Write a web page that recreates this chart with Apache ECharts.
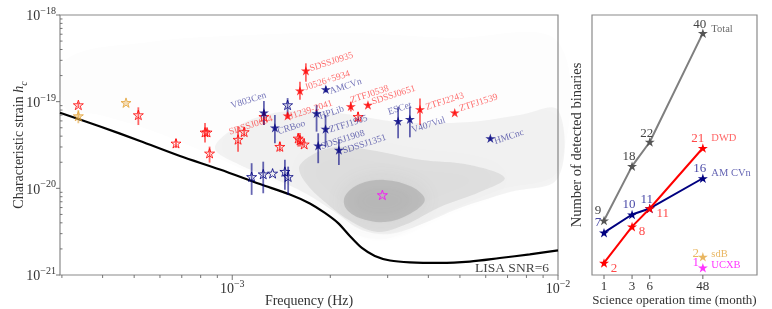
<!DOCTYPE html>
<html><head><meta charset="utf-8">
<script src="https://cdn.jsdelivr.net/npm/echarts@6/dist/echarts.min.js"></script>
<style>html,body{margin:0;padding:0;background:#fff}#c{width:772px;height:309px}</style>
</head><body><div id="c"></div>
<script>
// ================= DATA =================
// LISA sensitivity curve (SNR=6)
const lisaFreq   = [2.96e-4, 3.93e-4, 5.21e-4, 6.91e-4, 9.17e-4, 1.216e-3, 1.503e-3, 1.731e-3, 1.925e-3, 2.11e-3, 2.296e-3, 2.50e-3, 2.74e-3, 3.05e-3, 3.51e-3, 4.34e-3, 5.36e-3, 6.63e-3, 8.19e-3, 1.0e-2];
const lisaStrain = [7.46e-20, 5.18e-20, 3.52e-20, 2.36e-20, 1.65e-20, 1.12e-20, 8.5e-21, 6.70e-21, 5.20e-21, 3.99e-21, 2.82e-21, 2.05e-21, 1.66e-21, 1.47e-21, 1.40e-21, 1.38e-21, 1.43e-21, 1.57e-21, 1.73e-21, 1.92e-21];

// Simulated population density envelopes (outer -> core)
const cloudSparseF = [3.07e-4, 5.59e-4, 1.133e-3, 2.296e-3, 4.65e-3, 1.0e-2, 1.0e-2, 6.63e-3, 4.34e-3, 3.05e-3, 2.46e-3, 1.994e-3, 1.614e-3, 1.305e-3, 1.056e-3, 7.96e-4, 5.59e-4, 3.93e-4, 3.07e-4];
const cloudSparseH = [3.03e-19, 4.89e-19, 5.88e-19, 6.20e-19, 5.43e-19, 4.89e-19, 1.63e-20, 9.6e-21, 4.93e-21, 2.68e-21, 2.82e-21, 4.93e-21, 8.4e-21, 1.25e-20, 1.72e-20, 2.77e-20, 4.72e-20, 7.03e-20, 8.45e-20];
const cloudMidF = [8.85e-4, 1.056e-3, 1.40e-3, 1.994e-3, 3.27e-3, 5.36e-3, 7.63e-3, 1.0e-2, 1.0e-2, 7.11e-3, 4.99e-3, 3.77e-3, 3.05e-3, 2.50e-3, 2.065e-3, 1.671e-3, 1.305e-3, 1.056e-3];
const cloudMidH = [2.92e-20, 5.38e-20, 7.60e-20, 7.60e-20, 5.83e-20, 5.83e-20, 7.03e-20, 8.01e-20, 1.32e-20, 9.08e-21, 5.94e-21, 3.79e-21, 2.98e-21, 3.31e-21, 5.35e-21, 8.85e-21, 1.35e-20, 1.86e-20];
const cloudDenseF = [1.614e-3, 1.994e-3, 2.645e-3, 3.77e-3, 5.36e-3, 6.86e-3, 5.75e-3, 4.34e-3, 3.39e-3, 2.80e-3, 2.33e-3, 1.925e-3, 1.671e-3];
const cloudDenseH = [1.86e-20, 2.92e-20, 2.77e-20, 2.13e-20, 1.86e-20, 1.32e-20, 9.08e-21, 6.10e-21, 3.79e-21, 3.14e-21, 4.09e-21, 6.97e-21, 1.19e-20];
const cloudCoreF = [2.22e-3, 2.46e-3, 2.94e-3, 3.56e-3, 3.90e-3, 3.51e-3, 2.94e-3, 2.46e-3, 2.23e-3];
const cloudCoreH = [8.17e-21, 1.12e-20, 1.25e-20, 1.04e-20, 7.35e-21, 5.07e-21, 4.09e-21, 4.56e-21, 5.94e-21];

// Detected DWDs (filled red)
const dwdDetName = ['SDSSJ0935', 'J0526+5934', 'J1239-2041', 'ZTFJ0538', 'SDSSJ0651', 'ZTFJ2243', 'ZTFJ1539'];
const dwdDetF  = [1.683e-3, 1.614e-3, 1.479e-3, 2.312e-3, 2.61e-3, 3.77e-3, 4.82e-3];
const dwdDetH  = [2.28e-19, 1.34e-19, 6.90e-20, 8.85e-20, 9.17e-20, 8.17e-20, 7.46e-20];
const dwdDetLo = [1.70e-19, 1.05e-19, 6.4e-20, 7.7e-20, 8.9e-20, 5.38e-20, 7.2e-20];
const dwdDetHi = [2.77e-19, 1.70e-19, 7.5e-20, 1.0e-19, 9.5e-20, 1.09e-19, 7.7e-20];

// Undetected DWDs (open red)
const dwdUndName = ['', '', '', '', '', '', '', '', 'SDSSJ0634', '', '', '', '', ''];
const dwdUndF  = [3.37e-4, 5.15e-4, 6.72e-4, 8.25e-4, 8.37e-4, 8.52e-4, 1.042e-3, 1.088e-3, 1.251e-3, 1.40e-3, 1.594e-3, 1.614e-3, 1.663e-3, 2.434e-3];
const dwdUndH  = [9.17e-20, 7.03e-20, 3.31e-20, 4.44e-20, 4.44e-20, 2.54e-20, 3.66e-20, 4.48e-20, 6.71e-20, 3.03e-20, 3.78e-20, 3.61e-20, 3.23e-20, 6.71e-20];
const dwdUndLo = [8.6e-20, 5.38e-20, 2.92e-20, 3.37e-20, 4.1e-20, 1.98e-20, 2.65e-20, 3.94e-20, 5.38e-20, 2.65e-20, 3.03e-20, 3.03e-20, 3.0e-20, 5.87e-20];
const dwdUndHi = [9.8e-20, 8.61e-20, 3.72e-20, 5.68e-20, 4.8e-20, 3.03e-20, 5.10e-20, 4.93e-20, 8.01e-20, 3.46e-20, 4.35e-20, 4.35e-20, 3.5e-20, 7.67e-20];

// Detected AM CVn (filled navy)
const amDetName = ['V803Cen', 'CRBoo', 'AMCVn', 'HPLib', 'ZTFJ1905', 'SDSSJ1908', 'SDSSJ1351', 'ESCet', 'V407Vul', 'HMCnc'];
const amDetF  = [1.251e-3, 1.352e-3, 1.938e-3, 1.815e-3, 1.934e-3, 1.836e-3, 2.125e-3, 3.23e-3, 3.51e-3, 6.20e-3];
const amDetH  = [7.46e-20, 5.01e-20, 1.39e-19, 7.34e-20, 4.84e-20, 3.11e-20, 2.77e-20, 5.98e-20, 6.27e-20, 3.78e-20];
const amDetLo = [5.38e-20, 3.31e-20, 1.28e-19, 4.51e-20, 3.03e-20, 1.95e-20, 1.86e-20, 3.78e-20, 3.88e-20, 3.6e-20];
const amDetHi = [1.02e-19, 7.03e-20, 1.50e-19, 9.17e-20, 7.03e-20, 4.32e-20, 3.61e-20, 8.75e-20, 8.75e-20, 3.95e-20];

// Undetected AM CVn (open navy)
const amUndF  = [1.479e-3, 1.147e-3, 1.245e-3, 1.33e-3, 1.451e-3, 1.485e-3];
const amUndH  = [9.17e-20, 1.36e-20, 1.46e-20, 1.49e-20, 1.56e-20, 1.36e-20];
const amUndLo = [7.03e-20, 8.4e-21, 8.77e-21, 1.49e-20, 9.6e-21, 8.4e-21];
const amUndHi = [1.10e-19, 1.95e-20, 2.03e-20, 1.49e-20, 2.13e-20, 1.78e-20];

// sdB (orange) and UCXB (magenta)
const sdbF  = [3.37e-4, 4.72e-4];
const sdbH  = [6.84e-20, 9.74e-20];
const sdbLo = [5.64e-20, 9.74e-20];
const sdbHi = [8.01e-20, 9.74e-20];
const ucxbF = [2.89e-3];
const ucxbH = [8.4e-21];

// Axis ticks (left panel)
const freqMajorTicks = [1e-3, 1e-2];
const freqMinorTicks = [3e-4, 4e-4, 5e-4, 6e-4, 7e-4, 8e-4, 9e-4, 2e-3, 3e-3, 4e-3, 5e-3, 6e-3, 7e-3, 8e-3, 9e-3];
const strainMajorTicks = [1e-21, 1e-20, 1e-19, 1e-18];
const strainMinorTicks = [2e-21,3e-21,4e-21,5e-21,6e-21,7e-21,8e-21,9e-21, 2e-20,3e-20,4e-20,5e-20,6e-20,7e-20,8e-20,9e-20, 2e-19,3e-19,4e-19,5e-19,6e-19,7e-19,8e-19,9e-19];

// Right panel: number of detected binaries vs science time
const months = [1, 3, 6, 48];
const totalCount = [9, 18, 22, 40];
const dwdCount = [2, 8, 11, 21];
const amcvnCount = [7, 10, 11, 16];
const sdbMonth = [48];  const sdbCount = [2];  const sdbPlotted = [3.0];
const ucxbMonth = [48]; const ucxbCount = [1]; const ucxbPlotted = [1.2];

// ================= STYLE / LAYOUT =================
const FONT = 'Liberation Serif';
const STAR = 'path://M0,-100L22.45,-30.9L95.1,-30.9L36.33,11.8L58.8,80.9L0,38.2L-58.8,80.9L-36.33,11.8L-95.1,-30.9L-22.45,-30.9Z';
const RED = '#ff0000', NAVY = '#000080', ORANGE = '#e3a43a', MAG = '#ff00ff', GREY = '#7f7f7f';
// strain is plotted in units of 1e-21 (ECharts rounds values below 1e-20 to zero)
const H_UNIT_EXP = -21;
const hs = v => v * 1e21;
const X_MIN = 2.96e-4, X_MAX = 1e-2, Y_MIN = 1, Y_MAX = 1000;
const T_MIN = 0.625, T_MAX = 400, N_MIN = 0, N_MAX = 43;
const cloudAlpha = [0.013, 0.075, 0.13, 0.26];
const cloudBlur = [10, 22, 22, 20];
// label offsets [dx, dy, align] from star centre
const labelOffsets = {
  'SDSSJ0935': [4, -2, 'left'], 'J0526+5934': [5, -3, 'left'], 'J1239-2041': [2, 1, 'left'],
  'ZTFJ0538': [0, -6, 'left'], 'SDSSJ0651': [4, -3, 'left'], 'ZTFJ2243': [6, -2, 'left'], 'ZTFJ1539': [5, -4, 'left'],
  'SDSSJ0634': [9, 2, 'right'], 'V803Cen': [2, -18, 'right'], 'CRBoo': [3, 4, 'left'], 'AMCVn': [4, 2, 'left'],
  'HPLib': [3, 3, 'left'], 'ZTFJ1905': [4, 1, 'left'], 'SDSSJ1908': [3, 1, 'left'], 'SDSSJ1351': [4, 1, 'left'],
  'ESCet': [-10, -9, 'left'], 'V407Vul': [2, 11, 'left'], 'HMCnc': [4, 3, 'left']
};
const rightNumOff = {
  total: [[-6, -10], [-3, -10], [-3, -9], [-3, -9]],
  dwd: [[10, 5], [10, 5], [13, 5], [-5, -10]],
  amcvn: [[-6, -10], [-3, -10], [-3, -9], [-3, -10]],
  sdb: [[-7, -4]], ucxb: [[-7, -5]]
};

function toPairs(a, b) { return a.map((v, i) => [v, hs(b[i])]); }

function srcSeries(f, h, names, color, filled, size, labelColor, z, fillColor) {
  return {
    type: 'scatter', xAxisIndex: 0, yAxisIndex: 0, z: z || 5,
    symbol: STAR, symbolKeepAspect: true, symbolSize: size,
    itemStyle: filled ? { color: color } : { color: fillColor || 'rgba(255,255,255,0)', borderColor: color, borderWidth: 1 },
    emphasis: { disabled: true },
    data: f.map((v, i) => {
      const item = { value: [v, hs(h[i])] };
      const nm = names && names[i];
      if (nm) {
        const o = labelOffsets[nm];
        item.label = { show: true, formatter: nm, position: [size / 2 + o[0], size / 2 + o[1]],
          align: o[2], verticalAlign: 'middle', rotate: 18, color: labelColor, fontFamily: FONT, fontSize: 9.5 };
      }
      return item;
    })
  };
}

function errSeries(f, lo, hi, color) {
  return {
    type: 'custom', xAxisIndex: 0, yAxisIndex: 0, z: 4, silent: true,
    data: f.map((v, i) => [v, hs(lo[i]), hs(hi[i])]),
    encode: { x: 0, y: [1, 2] },
    renderItem: (params, api) => {
      const a = api.coord([api.value(0), api.value(1)]);
      const b = api.coord([api.value(0), api.value(2)]);
      return { type: 'line', shape: { x1: a[0], y1: a[1], x2: b[0], y2: b[1] }, style: { stroke: color, lineWidth: 1.8 } };
    }
  };
}

const cloudLayers = [
  [cloudSparseF, cloudSparseH], [cloudMidF, cloudMidH], [cloudDenseF, cloudDenseH], [cloudCoreF, cloudCoreH]
];

const cloudSeries = {
  type: 'custom', xAxisIndex: 0, yAxisIndex: 0, z: 1, silent: true,
  data: cloudLayers.map((L, i) => [L[0][0], hs(L[1][0]), i]),
  encode: { x: 0, y: 1 },
  renderItem: (params, api) => {
    const L = cloudLayers[params.dataIndex];
    const pts = L[0].map((fv, j) => api.coord([fv, hs(L[1][j])]));
    const a = cloudAlpha[params.dataIndex];
    const c = 'rgba(110,110,110,' + a + ')';
    return { type: 'polygon', shape: { points: pts, smooth: 0.35 }, style: { fill: c, shadowBlur: cloudBlur[params.dataIndex], shadowColor: 'rgba(110,110,110,' + (a * 1.5) + ')' } };
  }
};

function tickSeries(vals, axis, len, inside) {
  return {
    type: 'custom', xAxisIndex: 0, yAxisIndex: 0, z: 6, silent: true,
    data: vals.map(v => axis === 'x' ? [v, Y_MIN] : [X_MIN, hs(v)]),
    encode: { x: 0, y: 1 },
    renderItem: (params, api) => {
      const p = api.coord([api.value(0), api.value(1)]);
      const d = inside ? -len : len;
      const shape = axis === 'x' ? { x1: p[0], y1: p[1], x2: p[0], y2: p[1] + d } : { x1: p[0], y1: p[1], x2: p[0] - d, y2: p[1] };
      return { type: 'line', shape: shape, style: { stroke: '#666', lineWidth: 0.9 } };
    }
  };
}

const rightTickSeries = {
  type: 'custom', xAxisIndex: 1, yAxisIndex: 1, z: 6, silent: true,
  data: months.map(m => [m, N_MIN]),
  encode: { x: 0, y: 1 },
  renderItem: (params, api) => {
    const p = api.coord([api.value(0), api.value(1)]);
    return { type: 'group', children: [
      { type: 'line', shape: { x1: p[0], y1: p[1], x2: p[0], y2: p[1] + 4 }, style: { stroke: '#666', lineWidth: 1 } },
      { type: 'text', x: p[0], y: p[1] + 5, style: { text: String(api.value(0)), fontFamily: FONT, fontSize: 13, fill: '#333', align: 'center', verticalAlign: 'top' } }
    ] };
  }
};

const numLabels = { total: totalCount, dwd: dwdCount, amcvn: amcvnCount, sdb: sdbCount, ucxb: ucxbCount };
function countSeries(name, xs, ys, lineColor, symColor, numColor, offs, withLine) {
  return {
    type: withLine ? 'line' : 'scatter', name: name, xAxisIndex: 1, yAxisIndex: 1, z: 5,
    symbol: STAR, symbolKeepAspect: true, symbolSize: 10, showSymbol: true,
    lineStyle: { color: lineColor, width: 2 },
    itemStyle: { color: symColor },
    emphasis: { disabled: true },
    data: xs.map((x, i) => ({ value: [x, ys[i]],
      label: { show: true, formatter: String(numLabels[name][i]), position: [5 + offs[i][0], 5 + offs[i][1]],
        align: 'center', verticalAlign: 'middle', color: numColor, fontFamily: FONT, fontSize: 13 } }))
  };
}

function nameSeries(text, x, y, color, dy) {
  return {
    type: 'scatter', xAxisIndex: 1, yAxisIndex: 1, z: 5, symbolSize: 1, silent: true,
    itemStyle: { color: 'rgba(0,0,0,0)' },
    data: [{ value: [x, y], label: { show: true, formatter: text, position: [9, dy], align: 'left', verticalAlign: 'middle',
      color: color, fontFamily: FONT, fontSize: 10.5 } }]
  };
}

function powLabel(shift) {
  return {
    formatter: v => { const l = Math.log10(v); const e = Math.round(l); if (Math.abs(l - e) > 1e-6) return ''; return '{b|10}{s|−' + Math.abs(e + shift) + '}'; },
    rich: {
      b: { fontFamily: FONT, fontSize: 14, color: '#333', lineHeight: 17, verticalAlign: 'bottom' },
      s: { fontFamily: FONT, fontSize: 10, color: '#333', lineHeight: 17, verticalAlign: 'top' }
    }
  };
}

const chart = echarts.init(document.getElementById('c'), null, { renderer: 'canvas' });
chart.setOption({
  animation: false,
  backgroundColor: '#fff',
  grid: [
    { left: 60, top: 15, width: 498, height: 260, show: true, borderColor: '#8a8a8a', borderWidth: 1.2, backgroundColor: 'transparent',
      containLabel: false, outerBoundsMode: 'none' },
    { left: 592, top: 15, width: 165, height: 260, show: true, borderColor: '#8a8a8a', borderWidth: 1.2, backgroundColor: 'transparent',
      containLabel: false, outerBoundsMode: 'none' }
  ],
  xAxis: [
    { type: 'log', gridIndex: 0, min: X_MIN, max: X_MAX, logBase: 10,
      axisLine: { show: false }, axisTick: { show: false }, splitLine: { show: false },
      axisLabel: Object.assign({ margin: 4, showMinLabel: false }, powLabel(0)),
      name: 'Frequency (Hz)', nameLocation: 'middle', nameGap: 19, nameMoveOverlap: false,
      nameTextStyle: { fontFamily: FONT, fontSize: 14, color: '#333' } },
    { type: 'log', gridIndex: 1, min: T_MIN, max: T_MAX, logBase: 10,
      axisLine: { show: false }, axisTick: { show: false }, splitLine: { show: false }, axisLabel: { show: false },
      name: 'Science operation time (month)', nameLocation: 'middle', nameGap: 19, nameMoveOverlap: false,
      nameTextStyle: { fontFamily: FONT, fontSize: 13, color: '#333' } }
  ],
  yAxis: [
    { type: 'log', gridIndex: 0, min: Y_MIN, max: Y_MAX, logBase: 10,
      axisLine: { show: false }, axisTick: { show: false }, splitLine: { show: false },
      axisLabel: Object.assign({ margin: 4 }, powLabel(H_UNIT_EXP)),
      name: '{t|Characteristic strain }{i|h}{sub|c}', nameLocation: 'middle', nameGap: 31, nameRotate: 90, nameMoveOverlap: false,
      nameTextStyle: { fontFamily: FONT, fontSize: 14, color: '#333',
        rich: { t: { fontFamily: FONT, fontSize: 14, color: '#333' },
                i: { fontFamily: FONT, fontStyle: 'italic', fontSize: 14, color: '#333' },
                sub: { fontFamily: FONT, fontStyle: 'italic', fontSize: 10, color: '#333', verticalAlign: 'bottom', lineHeight: 20 } } } },
    { type: 'value', gridIndex: 1, min: N_MIN, max: N_MAX,
      axisLine: { show: false }, axisTick: { show: false }, splitLine: { show: false }, axisLabel: { show: false },
      name: 'Number of detected binaries', nameLocation: 'middle', nameGap: 7, nameRotate: 90, nameMoveOverlap: false,
      nameTextStyle: { fontFamily: FONT, fontSize: 14.5, color: '#333' } }
  ],
  graphic: [
    { type: 'text', right: 223, top: 261, z: 10, style: { text: 'LISA SNR=6', fontFamily: FONT, fontSize: 13.5, fill: '#444' } }
  ],
  series: [
    cloudSeries,
    { type: 'line', xAxisIndex: 0, yAxisIndex: 0, z: 3, data: toPairs(lisaFreq, lisaStrain), smooth: 0.3,
      showSymbol: false, symbol: 'none', lineStyle: { color: '#000', width: 2.2 }, silent: true },
    tickSeries(freqMajorTicks, 'x', 5, false),
    tickSeries(freqMinorTicks, 'x', 3, false),
    tickSeries(strainMajorTicks, 'y', 4, false),
    tickSeries(strainMinorTicks, 'y', 2.5, true),
    errSeries(dwdUndF, dwdUndLo, dwdUndHi, 'rgba(255,0,0,0.6)'),
    errSeries(dwdDetF, dwdDetLo, dwdDetHi, 'rgba(255,0,0,0.6)'),
    errSeries(amUndF, amUndLo, amUndHi, 'rgba(0,0,128,0.6)'),
    errSeries(amDetF, amDetLo, amDetHi, 'rgba(0,0,128,0.6)'),
    errSeries(sdbF, sdbLo, sdbHi, 'rgba(227,164,58,0.6)'),
    srcSeries(dwdUndF, dwdUndH, dwdUndName, RED, false, 10, 'rgba(255,0,0,0.72)'),
    srcSeries(amUndF, amUndH, null, NAVY, false, 10, 'rgba(0,0,128,0.72)'),
    srcSeries(sdbF, sdbH, null, ORANGE, false, 10, ORANGE, 5, 'rgba(227,164,58,0.45)'),
    srcSeries(ucxbF, ucxbH, null, MAG, false, 10, MAG),
    srcSeries(dwdDetF, dwdDetH, dwdDetName, RED, true, 10, 'rgba(255,0,0,0.72)', 6),
    srcSeries(amDetF, amDetH, amDetName, NAVY, true, 10, 'rgba(0,0,128,0.72)', 6),
    // right panel
    rightTickSeries,
    countSeries('total', months, totalCount, GREY, '#555', '#444', rightNumOff.total, true),
    countSeries('amcvn', months, amcvnCount, NAVY, NAVY, 'rgba(40,40,150,0.85)', rightNumOff.amcvn, true),
    countSeries('dwd', months, dwdCount, RED, RED, 'rgba(255,40,40,0.85)', rightNumOff.dwd, true),
    countSeries('sdb', sdbMonth, sdbPlotted, ORANGE, ORANGE, ORANGE, rightNumOff.sdb, false),
    countSeries('ucxb', ucxbMonth, ucxbPlotted, MAG, MAG, MAG, rightNumOff.ucxb, false),
    nameSeries('Total', months[3], totalCount[3], '#444', -3),
    nameSeries('DWD', months[3], dwdCount[3], 'rgba(255,40,40,0.9)', -9),
    nameSeries('AM CVn', months[3], amcvnCount[3], 'rgba(40,40,150,0.9)', -5),
    nameSeries('sdB', sdbMonth[0], sdbPlotted[0], ORANGE, -2),
    nameSeries('UCXB', ucxbMonth[0], ucxbPlotted[0], MAG, -2)
  ]
});
</script>
</body></html>
